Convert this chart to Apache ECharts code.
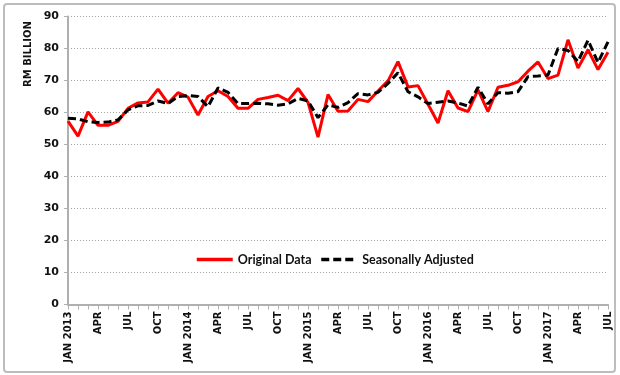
<!DOCTYPE html>
<html>
<head>
<meta charset="utf-8">
<script src="https://cdn.jsdelivr.net/npm/echarts@6/dist/echarts.min.js"></script>
<style>
  html, body { margin: 0; padding: 0; background: #fff; }
  #chart { width: 620px; height: 375px; }
</style>
</head>
<body>
<div id="chart"></div>
<script>
// months Jan 2013 .. Jul 2017
const monthNames = ["JAN", "FEB", "MAR", "APR", "MAY", "JUN", "JUL", "AUG", "SEP", "OCT", "NOV", "DEC"];
const years = [2013, 2014, 2015, 2016, 2017];
const months = [];
years.forEach(y => {
  monthNames.forEach((m, k) => {
    if (y === 2017 && k > 6) return;
    months.push(k === 0 ? m + " " + y : m);
  });
});

// RM billion
const originalData = [
  57.3, 52.6, 60.2, 56.0, 56.0, 57.2, 61.3, 63.0, 63.3, 67.3, 62.9, 66.2,
  64.8, 59.2, 65.0, 66.8, 65.0, 61.3, 61.3, 64.1, 64.7, 65.4, 63.7, 67.5,
  63.2, 52.3, 65.6, 60.4, 60.5, 64.1, 63.4, 66.7, 69.9, 75.9, 68.0, 68.4,
  62.6, 56.7, 66.8, 61.4, 60.3, 67.1, 60.3, 67.9, 68.5, 69.6, 72.9, 75.8,
  70.6, 71.7, 82.7, 73.9, 79.6, 73.4, 78.8
];
const seasonallyAdjusted = [
  58.2, 58.0, 57.1, 56.9, 57.0, 57.7, 60.8, 62.1, 62.2, 63.6, 62.8, 65.0,
  65.3, 65.0, 61.8, 67.7, 66.3, 62.8, 62.8, 62.9, 62.7, 62.3, 62.7, 64.4,
  63.6, 58.4, 62.4, 61.6, 63.1, 65.9, 65.5, 66.3, 69.1, 72.4, 66.5, 64.9,
  62.8, 63.2, 63.6, 63.0, 62.0, 67.9, 62.7, 66.2, 66.0, 66.5, 71.2, 71.4,
  71.7, 80.0, 79.4, 75.9, 82.6, 75.6, 82.1
];

const chart = echarts.init(document.getElementById("chart"));
const legendFont = "Lato, 'Open Sans', sans-serif";
const axisFont = "'DejaVu Sans', Verdana, sans-serif";

chart.setOption({
  animation: false,
  textStyle: { fontFamily: axisFont },
  graphic: [
    {
      type: "rect",
      shape: { x: 4, y: 4, width: 611, height: 368, r: 3 },
      style: { fill: "none", stroke: "#bdbdbd", lineWidth: 2 }
    },
    {
      type: "text",
      x: 28, y: 54,
      rotation: Math.PI / 2,
      style: {
        text: "RM BILLION",
        fontFamily: axisFont,
        fontSize: 10,
        fontWeight: "bold",
        fill: "#111",
        align: "center",
        verticalAlign: "middle"
      }
    }
  ],
  grid: { left: 68, right: 12, top: 16.5, bottom: 70.5 },
  legend: {
    left: 190,
    top: 248,
    itemWidth: 36,
    itemHeight: 14,
    itemGap: 8,
    itemStyle: { opacity: 0 },
    lineStyle: { width: 3.5 },
    textStyle: { fontFamily: legendFont, fontSize: 12.5, fontWeight: "bold", color: "#111" },
    data: ["Original Data", "Seasonally Adjusted"]
  },
  xAxis: {
    type: "category",
    data: months,
    boundaryGap: false,
    axisLine: { lineStyle: { color: "#b0b0b0", width: 2 } },
    axisTick: { show: true, interval: 0, length: 5, lineStyle: { color: "#b0b0b0", width: 1 } },
    axisLabel: {
      interval: 2,
      rotate: 90,
      margin: 7,
      fontSize: 10,
      fontWeight: "bold",
      color: "#111",
      fontFamily: axisFont
    },
    splitLine: { show: false }
  },
  yAxis: {
    type: "value",
    min: 0,
    max: 90,
    interval: 10,
    axisLine: { show: true, lineStyle: { color: "#b0b0b0", width: 2 } },
    axisTick: { show: true, length: 4, lineStyle: { color: "#b0b0b0" } },
    axisLabel: { fontSize: 11, fontWeight: "bold", color: "#111", margin: 9, fontFamily: axisFont },
    splitLine: { lineStyle: { color: "#a6a6a6", type: [1, 2], width: 1 } }
  },
  series: [
    {
      name: "Original Data",
      type: "line",
      data: originalData,
      symbol: "none",
      lineStyle: { color: "#ff0000", width: 3 },
      itemStyle: { color: "#ff0000" },
      z: 3
    },
    {
      name: "Seasonally Adjusted",
      type: "line",
      data: seasonallyAdjusted,
      symbol: "none",
      lineStyle: { color: "#000", width: 3, type: [8, 4] },
      itemStyle: { color: "#000" },
      z: 4
    }
  ]
});
</script>
</body>
</html>
